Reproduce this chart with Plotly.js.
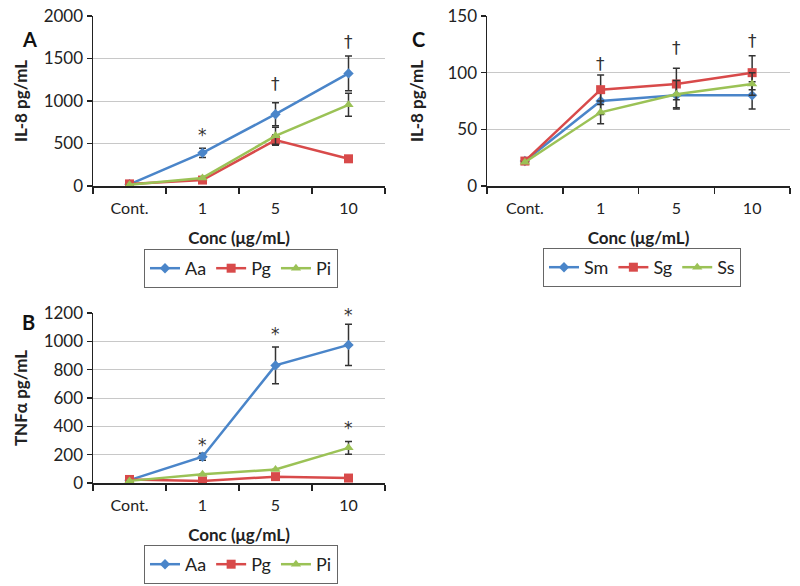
<!DOCTYPE html>
<html>
<head>
<meta charset="utf-8">
<script src="https://cdn.plot.ly/plotly-3.0.1.min.js"></script>
<style>
  body { margin: 0; background: #fff; }
  #chart { width: 800px; height: 586px; }
</style>
</head>
<body>
<div id="chart"></div>
<script>
// categorías del eje x (las mismas en los tres paneles)
const cats = ["Cont.", "1", "5", "10"];

// Panel A: IL-8 (pg/mL)
const aaIL8 = [20, 390, 845, 1325];
const aaIL8Err = [0, 55, 135, 205];
const pgIL8 = [25, 70, 540, 320];
const pgIL8Err = [0, 0, 60, 0];
const piIL8 = [15, 95, 590, 955];
const piIL8Err = [0, 0, 100, 135];

// Panel B: TNFα (pg/mL)
const aaTNF = [20, 185, 830, 975];
const aaTNFErr = [0, 25, 130, 145];
const pgTNF = [25, 15, 45, 35];
const pgTNFErr = [0, 0, 0, 0];
const piTNF = [15, 62, 95, 248];
const piTNFErr = [0, 0, 0, 45];

// Panel C: IL-8 (pg/mL)
const smIL8 = [22, 75, 80, 80];
const smIL8Err = [0, 12, 12, 12];
const sgIL8 = [22, 85, 90, 100];
const sgIL8Err = [0, 13, 14, 15];
const ssIL8 = [21, 65, 81, 90];
const ssIL8Err = [0, 10, 12, 10];

// marcas de significancia
const sigA = { x: ["1", "5", "10"], y: [600, 1200, 1690], txt: ["*", "†", "†"] };
const sigB = { x: ["1", "5", "10", "10"], y: [270, 1050, 1185, 385], txt: ["*", "*", "*", "*"] };
const sigC = { x: ["1", "5", "10"], y: [108, 122, 128], txt: ["†", "†", "†"] };

const azul = "#4a85c9", rojo = "#d84a4a", verde = "#9bc256";
const estilos = [
  { color: azul, symbol: "diamond", size: 8 },
  { color: rojo, symbol: "square", size: 9 },
  { color: verde, symbol: "triangle-up", size: 9 }
];

function serie(nombre, y, err, i, xa, ya, leg) {
  const s = estilos[i];
  return {
    x: cats, y: y, name: nombre, type: "scatter", mode: "lines+markers",
    xaxis: xa, yaxis: ya, legend: leg,
    line: { color: s.color, width: 2.5 },
    marker: { color: s.color, symbol: s.symbol, size: s.size },
    error_y: { type: "data", array: err, visible: true, color: "#333", thickness: 1.5, width: 3.5 }
  };
}

const data = [
  serie("Aa", aaIL8, aaIL8Err, 0, "x", "y", "legend"),
  serie("Pg", pgIL8, pgIL8Err, 1, "x", "y", "legend"),
  serie("Pi", piIL8, piIL8Err, 2, "x", "y", "legend"),
  serie("Aa", aaTNF, aaTNFErr, 0, "x2", "y2", "legend2"),
  serie("Pg", pgTNF, pgTNFErr, 1, "x2", "y2", "legend2"),
  serie("Pi", piTNF, piTNFErr, 2, "x2", "y2", "legend2"),
  serie("Sm", smIL8, smIL8Err, 0, "x3", "y3", "legend3"),
  serie("Sg", sgIL8, sgIL8Err, 1, "x3", "y3", "legend3"),
  serie("Ss", ssIL8, ssIL8Err, 2, "x3", "y3", "legend3")
];

const fuente = "Lato, 'Open Sans', sans-serif";

function ejeX(dom, anchor) {
  return {
    domain: dom, anchor: anchor, type: "category", range: [-0.5, 3.5],
    showline: true, linecolor: "#222", linewidth: 1.5,
    ticks: "outside", tickson: "boundaries", ticklen: 6, tickcolor: "#222", tickwidth: 1.5,
    showgrid: false, zeroline: false, ticklabelstandoff: 7,
    tickfont: { size: 16, color: "#222" },
    title: { text: "<b>Conc (μg/mL)</b>", font: { size: 17, color: "#222" }, standoff: 16 }
  };
}

function ejeY(dom, anchor, rango, paso, titulo, standoff) {
  return {
    domain: dom, anchor: anchor, range: rango, dtick: paso,
    showline: true, linecolor: "#222", linewidth: 1.5,
    ticks: "outside", ticklen: 5, tickcolor: "#222", tickwidth: 1.5,
    showgrid: true, gridcolor: "#c8c8c8", gridwidth: 1, zeroline: false,
    tickfont: { size: 17, color: "#222" },
    title: { text: "<b>" + titulo + "</b>", font: { size: 17, color: "#222" }, standoff: standoff }
  };
}

function leyenda(xc, ytop) {
  return {
    orientation: "h", x: xc, y: ytop, xanchor: "center", yanchor: "top",
    bordercolor: "#666", borderwidth: 1, bgcolor: "#fff",
    font: { size: 18, color: "#222", family: fuente },
    tracegroupgap: 0
  };
}

// anotaciones sobre ejes de categoría: se posicionan por índice de la categoría
function marcas(sig, xa, ya) {
  return sig.x.map((x, i) => ({
    x: cats.indexOf(x), y: sig.y[i], xref: xa, yref: ya, text: sig.txt[i], showarrow: false,
    font: { size: 17, color: "#333", family: "'DejaVu Sans', sans-serif" }
  }));
}

const letras = [
  { text: "<b>A</b>", x: 20, y: 25 },
  { text: "<b>B</b>", x: 20, y: 322 },
  { text: "<b>C</b>", x: 418, y: 25 }
].map(l => ({
  text: l.text, xref: "paper", yref: "paper", x: l.x / 800, y: 1 - l.y / 586,
  showarrow: false, font: { size: 20, color: "#111" }
}));

const layout = {
  width: 800, height: 586,
  margin: { l: 0, r: 0, t: 0, b: 0 },
  paper_bgcolor: "#fff", plot_bgcolor: "#fff",
  font: { family: fuente, color: "#222" },
  xaxis: ejeX([93 / 800, 385 / 800], "y"),
  yaxis: ejeY([1 - 186 / 586, 1 - 16 / 586], "x", [0, 2000], 500, "IL-8 pg/mL", 11),
  xaxis2: ejeX([93 / 800, 385 / 800], "y2"),
  yaxis2: ejeY([1 - 483 / 586, 1 - 313 / 586], "x2", [0, 1200], 200, "TNFα pg/mL", 11),
  xaxis3: ejeX([487 / 800, 790 / 800], "y3"),
  yaxis3: ejeY([1 - 186 / 586, 1 - 16 / 586], "x3", [0, 150], 50, "IL-8 pg/mL", 19),
  legend: leyenda(241 / 800, 1 - 249 / 586),
  legend2: leyenda(241 / 800, 1 - 545 / 586),
  legend3: leyenda(642 / 800, 1 - 248 / 586),
  annotations: [].concat(marcas(sigA, "x", "y"), marcas(sigB, "x2", "y2"), marcas(sigC, "x3", "y3"), letras)
};

Plotly.newPlot("chart", data, layout, { displayModeBar: false, staticPlot: true });
</script>
</body>
</html>
